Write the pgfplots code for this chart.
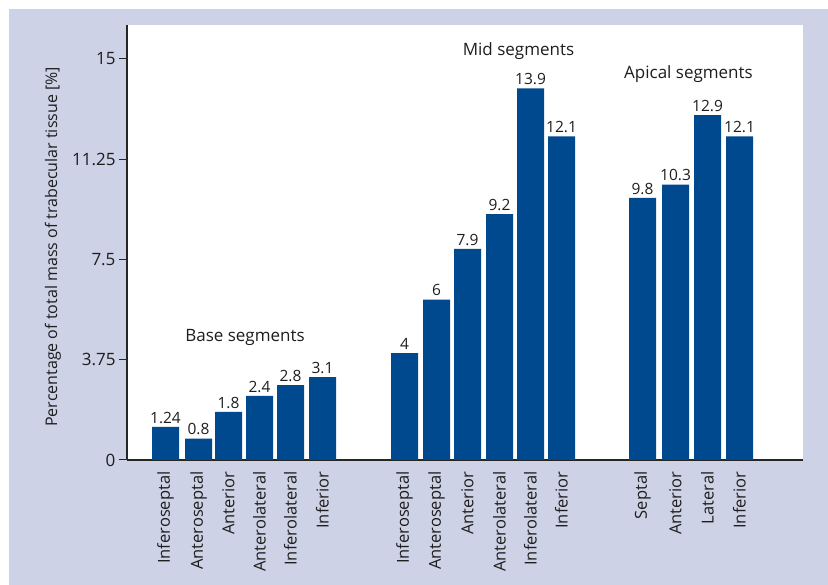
\documentclass[border=0pt]{standalone}
\usepackage{fontspec}
\setmainfont{Open Sans}
\usepackage{pgfplots}
\pgfplotsset{compat=1.18}
\definecolor{panel}{RGB}{205,210,230}
\definecolor{barblue}{RGB}{0,73,143}
\definecolor{ink}{RGB}{30,30,30}

% segment percentages; x is the bar centre along the axis
\pgfplotstableread{
x     y     label
165.5 1.24  1.24
198.5 0.8   0.8
228.5 1.8   1.8
259.5 2.4   2.4
290.5 2.8   2.8
322.5 3.1   3.1
404.5 4     4
436.5 6     6
467.5 7.9   7.9
499.5 9.2   9.2
530.5 13.9  13.9
561.5 12.1  12.1
642.5 9.8   9.8
675.5 10.3  10.3
707.5 12.9  12.9
739.5 12.1  12.1
}\segments

\begin{document}
\begin{tikzpicture}[x=1pt,y=1pt]
\fill[white] (0,0) rectangle (828,585);
\fill[panel] (9,0) rectangle (828,576);
\begin{axis}[
  at={(127pt,125pt)}, anchor=south west,
  width=676pt, height=435pt, scale only axis,
  xmin=127, xmax=803, ymin=0, ymax=16.27,
  axis x line=bottom, axis y line=left,
  axis line style={-, line width=1.4pt, black!85},
  axis background/.style={fill=white},
  /pgf/number format/assume math mode=true,
  ytick={0,3.75,7.5,11.25,15},
  yticklabels={0,3.75,7.5,11.25,15},
  yticklabel style={font=\fontsize{17}{20}\selectfont, text=ink},
  tick align=outside, major tick length=8pt,
  ytick style={line width=1pt, black!85},
  xtick={165.5,198.5,228.5,259.5,290.5,322.5,404.5,436.5,467.5,499.5,530.5,561.5,642.5,675.5,707.5,739.5},
  xticklabels={Inferoseptal,Anteroseptal,Anterior,Anterolateral,Inferolateral,Inferior,
               Inferoseptal,Anteroseptal,Anterior,Anterolateral,Inferolateral,Inferior,
               Septal,Anterior,Lateral,Inferior},
  xtick style={draw=none},
  xticklabel style={rotate=90, anchor=east, font=\fontsize{16.5}{19}\selectfont, text=ink},
  ylabel={Percentage of total mass of trabecular tissue [\%]},
  ylabel style={at={(axis description cs:-0.1095,0.49)}, anchor=center,
                font=\fontsize{16}{19}\selectfont, text=ink},
  clip=false,
]
\addplot[ybar, bar width=27, fill=barblue, draw=none,
  nodes near coords, point meta=explicit symbolic,
  every node near coord/.append style={font=\fontsize{15.5}{18}\selectfont, text=ink}]
  table[x=x, y=y, meta=label] {\segments};
\node[font=\fontsize{17}{20}\selectfont, text=ink] at (axis cs:245,4.6) {Base segments};
\node[font=\fontsize{17}{20}\selectfont, text=ink] at (axis cs:518.5,15.3) {Mid segments};
\node[font=\fontsize{17}{20}\selectfont, text=ink] at (axis cs:688.5,14.44) {Apical segments};
\end{axis}
\end{tikzpicture}
\end{document}
